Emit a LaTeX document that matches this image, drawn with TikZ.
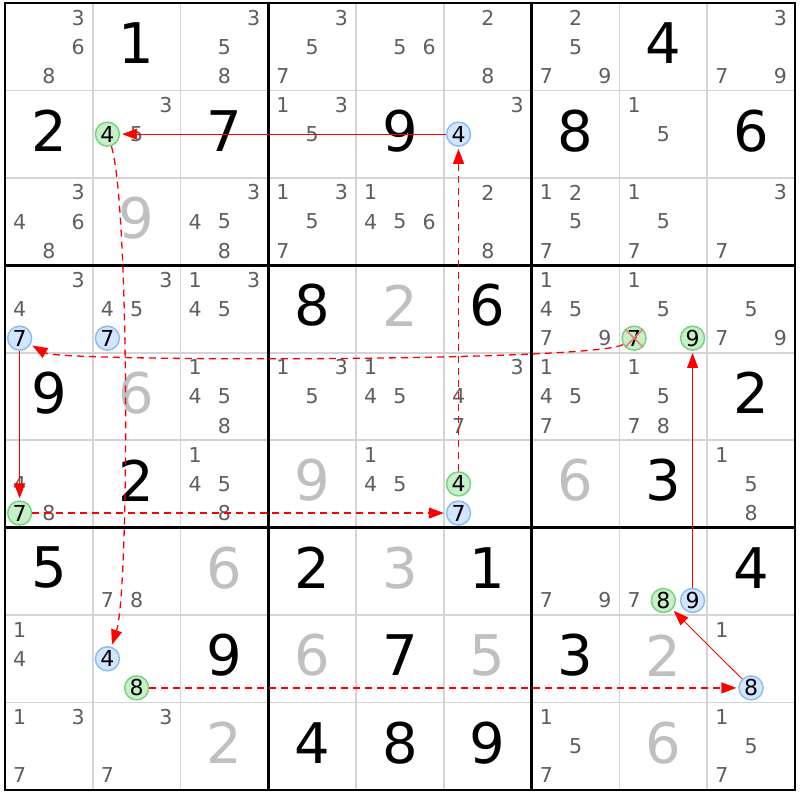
\documentclass[tikz,border=0pt]{standalone}
\usepackage{fontspec}
\setmainfont{DejaVu Sans}
\usepackage{tikz}
\usetikzlibrary{arrows.meta}

\definecolor{candgray}{HTML}{5E5E5E}
\definecolor{solvedgray}{HTML}{C0C0C0}
\definecolor{gridgray}{HTML}{D4D4D4}
\definecolor{linkred}{HTML}{FF0000}
\definecolor{markgreen}{HTML}{C8F0C8}
\definecolor{edgegreen}{HTML}{78D282}
\definecolor{markblue}{HTML}{D4E6FF}
\definecolor{edgeblue}{HTML}{8CBEF0}
\definecolor{crossred}{HTML}{F07880}

\tikzset{
  given/.style={inner sep=0pt, yshift=3.5pt, font=\fontsize{56}{56}\selectfont},
  solved/.style={given, text=solvedgray},
  cand/.style={inner sep=0pt, text=candgray, font=\fontsize{20.5}{20.5}\selectfont},
  ringed/.style={cand, circle, text=black, minimum size=24pt, line width=1.5pt,
    font=\fontsize{22}{22}\selectfont},
  greenmark/.style={ringed, fill=markgreen, draw=edgegreen},
  bluemark/.style={ringed, fill=markblue, draw=edgeblue},
  thinline/.style={gridgray, line width=1.8pt},
  boxline/.style={black, line width=2.8pt, line cap=rect},
  crossline/.style={crossred, line width=1.5pt},
  strong/.style={linkred, line width=0.9pt, -{Triangle[length=15pt,width=11pt]}, shorten >=2pt},
  weak/.style={strong, line width=1.3pt, dash pattern=on 7pt off 5pt}
}

\begin{document}
\begin{tikzpicture}[x=87.78pt, y=87.44pt]
    \fill[white] (-0.057,-0.1144) rectangle (9.057,9.0343);
    \useasboundingbox (-0.057,-0.1144) rectangle (9.057,9.0343);

    % Grid
    \foreach \i in {1,2,4,5,7,8} {
        \draw[thinline] (\i,0) -- (\i,9);
        \draw[thinline] (0,\i) -- (9,\i);
    }
    \foreach \i in {0,3,6,9} {
        \draw[boxline] (\i,0) -- (\i,9);
        \draw[boxline] (0,\i) -- (9,\i);
    }

    % Givens
    \foreach \r/\c/\v in {1/2/1, 1/8/4, 2/1/2, 2/3/7, 2/5/9, 2/7/8, 2/9/6,
        4/4/8, 4/6/6, 5/1/9, 5/9/2, 6/2/2, 6/8/3, 7/1/5, 7/4/2, 7/6/1, 7/9/4,
        8/3/9, 8/5/7, 8/7/3, 9/4/4, 9/5/8, 9/6/9}
        \node[given] (g\r\c) at (\c-0.5,9.5-\r) {\v};

    % Solved cells
    \foreach \r/\c/\v in {3/2/9, 4/5/2, 5/2/6, 6/4/9, 6/7/6, 7/3/6, 7/5/3,
        8/4/6, 8/6/5, 8/8/2, 9/3/2, 9/8/6}
        \node[solved] (g\r\c) at (\c-0.5,9.5-\r) {\v};

    % Candidates
    \foreach \r/\c/\ds in {1/1/{3,6,8}, 1/3/{3,5,8}, 1/4/{3,5,7}, 1/5/{5,6},
        1/6/{2,8}, 1/7/{2,5,7,9}, 1/9/{3,7,9}, 2/2/{3,5}, 2/4/{1,3,5}, 2/6/{3},
        2/8/{1,5}, 3/1/{3,4,6,8}, 3/3/{3,4,5,8}, 3/4/{1,3,5,7}, 3/5/{1,4,5,6},
        3/6/{2,8}, 3/7/{1,2,5,7}, 3/8/{1,5,7}, 3/9/{3,7}, 4/1/{3,4}, 4/2/{3,4,5},
        4/3/{1,3,4,5}, 4/7/{1,4,5,7,9}, 4/8/{1,5}, 4/9/{5,7,9}, 5/3/{1,4,5,8},
        5/4/{1,3,5}, 5/5/{1,4,5}, 5/6/{3,4,7}, 5/7/{1,4,5,7}, 5/8/{1,5,7,8},
        6/1/{4,8}, 6/3/{1,4,5,8}, 6/5/{1,4,5}, 6/9/{1,5,8}, 7/2/{7,8}, 7/7/{7,9},
        7/8/{7}, 8/1/{1,4}, 8/9/{1}, 9/1/{1,3,7}, 9/2/{3,7}, 9/7/{1,5,7},
        9/9/{1,5,7}} {
        \foreach \d in \ds {
            \pgfmathsetmacro\kx{\c-1+(2*mod(\d-1,3)+1)/6}
            \pgfmathsetmacro\ky{10-\r-(2*floor((\d-1)/3)+1)/6}
            \node[cand] (k\r\c\d) at (\kx,\ky) {\d};
        }
    }

    % Marked candidates
    \foreach \r/\c/\d/\s in {2/2/4/greenmark, 2/6/4/bluemark, 4/1/7/bluemark,
        4/2/7/bluemark, 4/8/7/greenmark, 4/8/9/greenmark, 6/1/7/greenmark,
        6/6/4/greenmark, 6/6/7/bluemark, 7/8/8/greenmark, 7/8/9/bluemark,
        8/2/4/bluemark, 8/2/8/greenmark, 8/9/8/bluemark} {
        \pgfmathsetmacro\kx{\c-1+(2*mod(\d-1,3)+1)/6}
        \pgfmathsetmacro\ky{10-\r-(2*floor((\d-1)/3)+1)/6}
        \node[\s] (k\r\c\d) at (\kx,\ky) {\d};
    }

    % Chain
    \draw[strong] (k264) -- (k224);
    \draw[weak] (k664) -- (k264);
    \draw[weak] (k224) to[out=-72,in=72,looseness=0.3] (k824);
    \draw[weak] (k828) -- (k898);
    \draw[strong] (k898) -- (k788);
    \draw[strong] (k789) -- (k489);
    \draw[weak] (k487) to[out=-150,in=-30,looseness=0.15] (k417);
    \draw[strong] (k417) -- (k617);
    \draw[weak] (k617) -- (k667);

    % Eliminated
    \draw[crossline] (k487.north west) -- (k487.south east);
    \draw[crossline] (k487.north east) -- (k487.south west);
\end{tikzpicture}
\end{document}
